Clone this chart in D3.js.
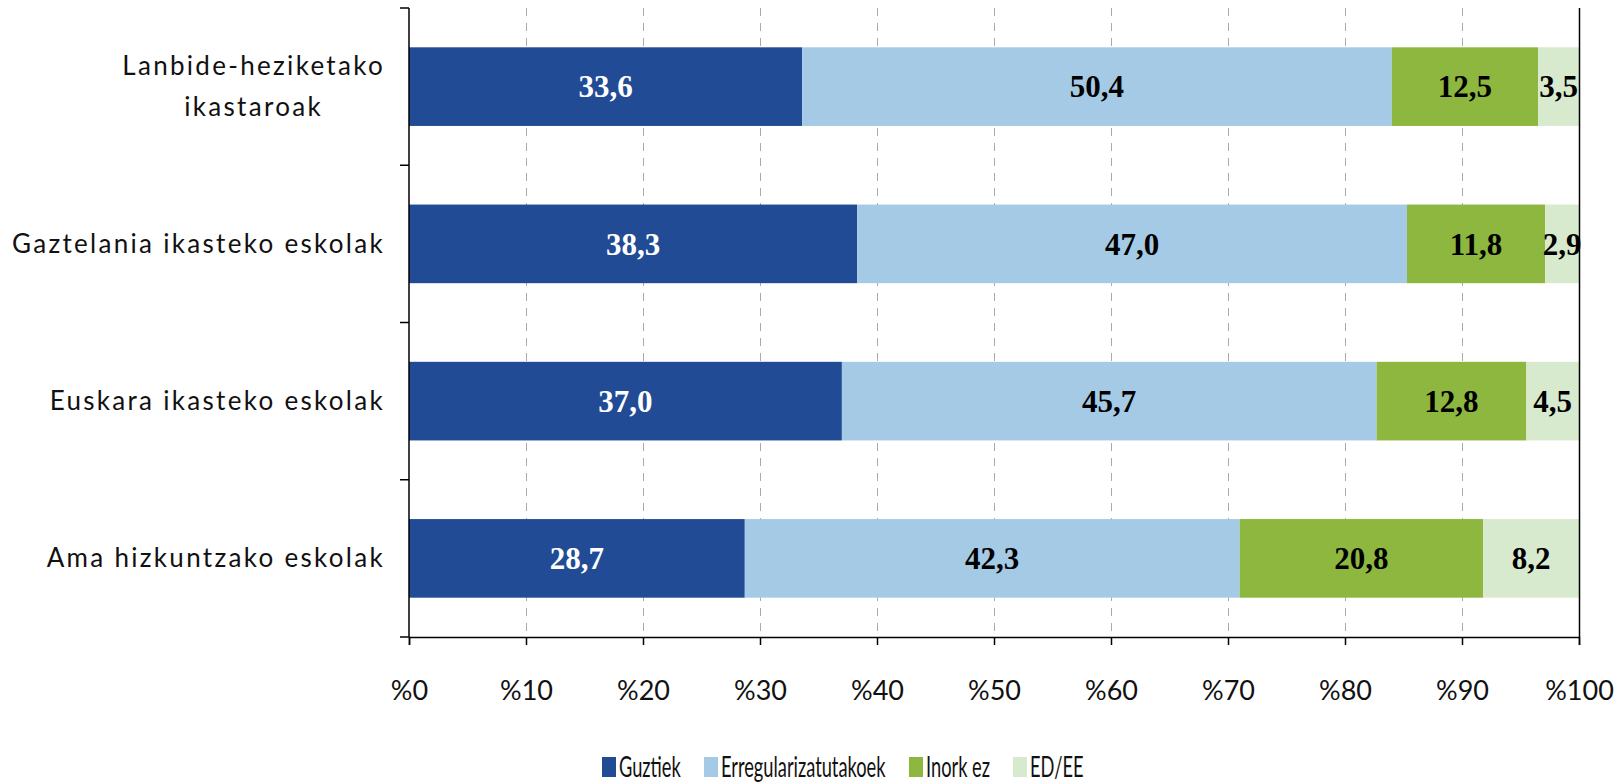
<!DOCTYPE html>
<html><head><meta charset="utf-8">
<script src="https://cdn.jsdelivr.net/npm/d3@7"></script>
<style>body{margin:0;background:#fff}svg{display:block}</style>
</head><body>
<svg id="c" width="1622" height="784"></svg>
<script>
const categories = [["Lanbide-heziketako","ikastaroak"],["Gaztelania ikasteko eskolak"],["Euskara ikasteko eskolak"],["Ama hizkuntzako eskolak"]];
const seriesNames = ["Guztiek","Erregularizatutakoek","Inork ez","ED/EE"];
const guztiek = [33.6,38.3,37.0,28.7];
const erregularizatutakoek = [50.4,47.0,45.7,42.3];
const inorkEz = [12.5,11.8,12.8,20.8];
const edee = [3.5,2.9,4.5,8.2];
const xTicks = [0,10,20,30,40,50,60,70,80,90,100];
const colors = ["#214B94","#A4CAE6","#8DB73F","#D8EACE"];
const labelColors = ["#ffffff","#000000","#000000","#000000"];

const series = [guztiek, erregularizatutakoek, inorkEz, edee];
const svg = d3.select("#c");
const L = 409, R = 1579, T = 8, B = 637;
const x = d3.scaleLinear().domain([0,100]).range([L,R]);
const y = d3.scaleBand().domain(d3.range(categories.length)).range([T,B]).paddingInner(0.5).paddingOuter(0.25);
const sansFont = "Lato, 'Open Sans', sans-serif";

// gridlines
svg.append("g").selectAll("line").data(xTicks.filter(d=>d>0&&d<100)).join("line")
  .attr("x1",d=>x(d)+0.5).attr("x2",d=>x(d)+0.5).attr("y1",T).attr("y2",B)
  .attr("stroke","#aaa").attr("stroke-width",1).attr("stroke-dasharray","8,7");

// bars
const stacked = categories.map((c,i)=>{let acc=0;return series.map((s,k)=>{const d={i,k,x0:acc,x1:acc+s[i],v:s[i]};acc+=s[i];return d;});}).flat();
svg.append("g").selectAll("rect").data(stacked).join("rect")
  .attr("x",d=>x(d.x0)).attr("width",d=>x(d.x1)-x(d.x0))
  .attr("y",d=>y(d.i)).attr("height",y.bandwidth())
  .attr("fill",d=>colors[d.k]);

svg.append("g").selectAll("text").data(stacked).join("text")
  .attr("x",d=>(x(d.x0)+x(d.x1))/2).attr("y",d=>y(d.i)+y.bandwidth()/2)
  .attr("dy","0.35em").attr("text-anchor","middle")
  .attr("font-family","'Liberation Serif', serif").attr("font-weight","bold").attr("font-size",31)
  .attr("fill",d=>labelColors[d.k])
  .text(d=>d3.format(".1f")(d.v).replace(".",","));

// right border
svg.append("line").attr("x1",R+0.5).attr("x2",R+0.5).attr("y1",T).attr("y2",B).attr("stroke","#000").attr("stroke-width",1.5);

// x axis
const xAxis = svg.append("g").attr("transform",`translate(0,${B})`)
  .call(d3.axisBottom(x).tickValues(xTicks).tickSize(8).tickFormat(d=>"%"+d));
xAxis.select(".domain").attr("stroke","#000").attr("stroke-width",1.5);
xAxis.selectAll(".tick line").attr("stroke","#000").attr("stroke-width",1.5);
xAxis.selectAll(".tick text").attr("font-family",sansFont).attr("font-size",27).attr("fill","#111").attr("y",44);

// y axis with ticks at band boundaries
const yTickPos = d3.range(categories.length+1).map(i=>T + i*(B-T)/categories.length);
svg.append("line").attr("x1",L).attr("x2",L).attr("y1",T).attr("y2",B).attr("stroke","#000").attr("stroke-width",1.5);
svg.append("g").selectAll("line").data(yTickPos).join("line")
  .attr("x1",L-9).attr("x2",L).attr("y1",d=>d).attr("y2",d=>d).attr("stroke","#000").attr("stroke-width",1.5);

// category labels
const labelRight = 385;
categories.forEach((lines,i)=>{
  const cy = y(i)+y.bandwidth()/2;
  const g = svg.append("g");
  const lh = 41;
  const texts = lines.map((t,j)=>g.append("text")
    .attr("y",cy + (j-(lines.length-1)/2)*lh).attr("dy","0.35em")
    .attr("font-family",sansFont).attr("font-size",26).attr("letter-spacing",2.3).attr("fill","#111").text(t));
  const maxW = d3.max(texts,t=>t.node().getComputedTextLength());
  texts.forEach(t=>t.attr("text-anchor","middle").attr("x",labelRight-maxW/2));
});

// legend (condensed text)
const legendX = [602,704,909,1013];
const lg = svg.append("g");
seriesNames.forEach((n,k)=>{
  lg.append("rect").attr("x",legendX[k]).attr("y",757).attr("width",14).attr("height",20).attr("fill",colors[k]);
  lg.append("text").attr("transform",`translate(${legendX[k]+17},767) scale(0.63,1)`).attr("dy","0.35em")
    .attr("font-family",sansFont).attr("font-size",29).attr("fill","#111").text(n);
});
</script>
</body></html>
